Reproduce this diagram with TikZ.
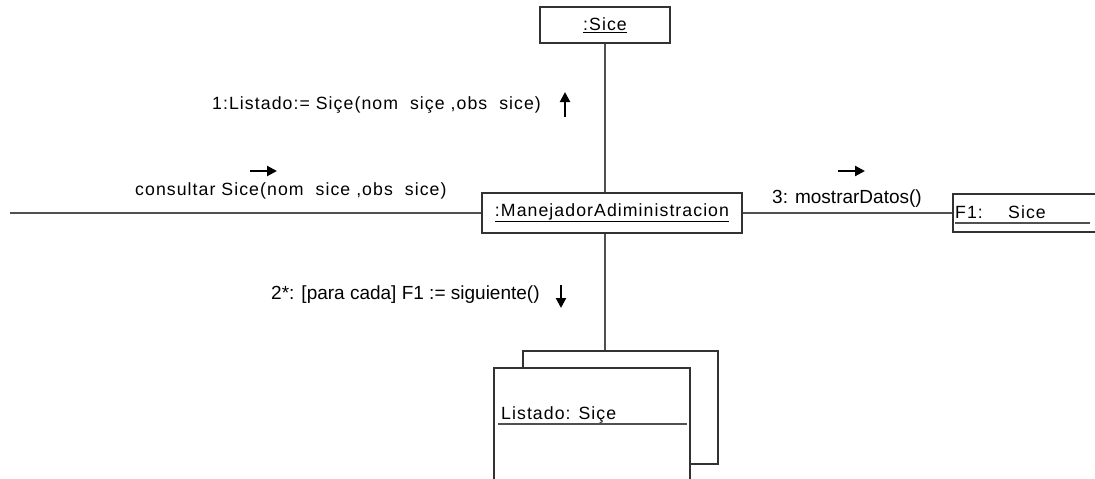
\documentclass[tikz,border=0pt]{standalone}
\usepackage{fontspec}
\setmainfont{Liberation Sans}
\newfontfamily\widefont[LetterSpace=6]{Liberation Sans}
\usetikzlibrary{arrows.meta,positioning}
\definecolor{linegray}{RGB}{80,80,80}
\definecolor{boxgray}{RGB}{50,50,50}

\begin{document}
\begin{tikzpicture}[
  x=1pt, y=-1pt,
  obj/.style={draw=boxgray, line width=1.5pt, fill=white, inner sep=0pt,
              font=\widefont\fontsize{17.7}{19}\selectfont},
  boxtext/.style={inner sep=0pt, font=\widefont\fontsize{17.7}{19}\selectfont},
  widemsg/.style={inner sep=0pt, anchor=west,
                  font=\widefont\fontsize{17.7}{19}\selectfont},
  msg/.style={inner sep=0pt, anchor=west, font=\fontsize{19}{21}\selectfont},
  link/.style={draw=linegray, line width=1.4pt},
  uline/.style={draw=linegray, line width=1.3pt},
  dirarrow/.style={-{Triangle[length=10pt,width=10pt]}, line width=2.1pt,
                   draw=black}
]
\useasboundingbox (0,0) rectangle (1095,479);

% objects
\node[obj, minimum width=130, minimum height=36] (sice) at (605,25)
  {\underline{:Sice}};
\node[obj, minimum width=260, minimum height=40] (manejador) at (612,213)
  {\underline{:ManejadorAdiministracion}};
\node[obj, minimum width=160, minimum height=38, anchor=west] (f1)
  at (952,213) {};
\node[boxtext, anchor=base west] (f1name) at (955,218) {F1:};
\node[boxtext, anchor=base west] (f1class) at (1008,218) {Sice};
\node[obj, minimum width=195, minimum height=113, anchor=north west]
  (listaback) at (522,350) {};
\node[obj, minimum width=196, minimum height=130, anchor=north west]
  (lista) at (493,367) {};
\node[boxtext, anchor=base west] (listaname) at (501,419) {Listado: Siçe};
\coordinate (leftend) at (10,213);

% links
\draw[link] (leftend) -- (manejador);
\draw[link] (sice) -- (sice |- manejador.north);
\draw[link] (manejador) -- (f1);
\draw[link] (sice |- manejador.south) -- (sice |- listaback.north);
\draw[uline] ([shift={(3pt,-5pt)}]f1.west |- f1name.base) -- ++(135,0);
\draw[uline] ([shift={(5pt,-5pt)}]lista.west |- listaname.base) -- ++(189,0);

% messages
\node[widemsg] (msglist) at (212,105)
  {1:Listado:= Siçe(nom\ \ siçe ,obs\ \ sice)};
\node[widemsg] (msgquery) at (135,191)
  {consultar Sice(nom\ \ sice ,obs\ \ sice)};
\node[msg] (msgshow) at (772,199) {3: mostrarDatos()};
\node[msg] (msgnext) at (271,295) {2*: [para cada] F1 := siguiente()};

\coordinate (uparrow) at (565,117);
\coordinate (queryarrow) at (250,171);
\coordinate (showarrow) at (838,171);
\coordinate (nextarrow) at (561,285);
\draw[dirarrow] (uparrow) -- ++(0,-25);
\draw[dirarrow] (queryarrow) -- ++(27,0);
\draw[dirarrow] (showarrow) -- ++(27,0);
\draw[dirarrow] (nextarrow) -- ++(0,23);
\end{tikzpicture}
\end{document}
